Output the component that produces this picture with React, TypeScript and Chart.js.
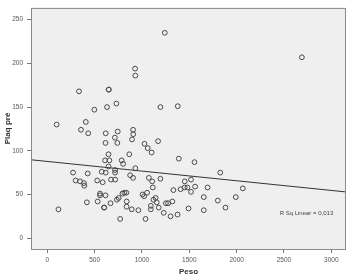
import React, { useEffect, useRef } from "react";
import { Chart, registerables } from "chart.js";

Chart.register(...registerables);

// Weight (Peso) values of each case
const peso = [
  1241, 2689, 927, 930, 335, 649, 649, 730, 497, 631,
  1195, 1378, 99, 407, 356, 432, 617, 744, 906, 908,
  895, 714, 1170, 615, 740, 1027, 1061, 1102, 647, 866,
  610, 656, 786, 801, 647, 930, 1389, 1555, 1827, 272,
  427, 575, 617, 716, 716, 875, 906, 300, 346, 387,
  391, 527, 585, 673, 717, 1073, 1195, 1108, 1114, 1452,
  1518, 1332, 1408, 1451, 1480, 1518, 1561, 1693, 2065, 557,
  557, 615, 418, 532, 601, 601, 668, 735, 754, 794,
  814, 835, 839, 837, 892, 962, 118, 770, 1006, 1023,
  1054, 1144, 1121, 1156, 1253, 1276, 1321, 1653, 1801, 1094,
  1094, 1177, 1230, 1302, 1376, 1492, 1653, 1882, 1991, 1038,
];

// Plaq pré values of each case
const plaq = [
  235, 207, 194, 186, 168, 170, 170, 154, 147, 150,
  150, 151, 130, 133, 124, 120, 120, 122, 124, 119,
  113, 115, 111, 109, 109, 108, 103, 98, 96, 96,
  89, 89, 89, 85, 82, 80, 91, 87, 75, 75,
  74, 76, 75, 78, 75, 72, 69, 66, 65, 63,
  60, 66, 64, 67, 67, 69, 68, 65, 58, 65,
  67, 55, 56, 58, 58, 53, 59, 58, 57, 51,
  49, 49, 41, 42, 35, 35, 40, 44, 46, 51,
  52, 52, 42, 36, 33, 32, 33, 22, 50, 48,
  52, 46, 44, 41, 40, 40, 42, 47, 43, 37,
  33, 35, 29, 25, 27, 34, 32, 35, 47, 22,
];

// Fit line (ends at the plot edges)
const fitX = [-172, 3155];
const fitY = [89.7, 52.9];

const xTicks = [0, 500, 1000, 1500, 2000, 2500, 3000];
const yTicks = [0, 50, 100, 150, 200, 250];

const xTitle = "Peso";
const yTitle = "Plaq pré";
const rSqLabel = "R Sq Linear = 0,013";
const rSqAt = { x: 3020, y: 28 };

const FONT = "'Liberation Sans', Arial, sans-serif";

export default function App() {
  const ref = useRef<HTMLCanvasElement>(null);

  useEffect(() => {
    if (!ref.current) return;

    const framePlugin = {
      id: "frame",
      beforeDraw(chart: any) {
        const { ctx, chartArea: a } = chart;
        ctx.save();
        ctx.fillStyle = "#ffffff";
        ctx.fillRect(0, 0, chart.width, chart.height);
        ctx.fillStyle = "#efefef";
        ctx.fillRect(a.left, a.top, a.right - a.left, a.bottom - a.top);
        ctx.restore();
      },
      afterDatasetsDraw(chart: any) {
        const { ctx, chartArea: a, scales } = chart;
        ctx.save();
        ctx.strokeStyle = "#8a8a8a";
        ctx.lineWidth = 1;
        ctx.strokeRect(a.left + 0.5, a.top + 0.5, a.right - a.left - 1, a.bottom - a.top);
        ctx.fillStyle = "#444";
        ctx.font = `6px ${FONT}`;
        ctx.textAlign = "right";
        ctx.textBaseline = "middle";
        ctx.fillText(
          rSqLabel,
          scales.x.getPixelForValue(rSqAt.x),
          scales.y.getPixelForValue(rSqAt.y)
        );
        ctx.restore();
      },
    };

    const chart = new Chart(ref.current, {
      type: "scatter",
      data: {
        datasets: [
          {
            type: "scatter",
            data: peso.map((p, i) => ({ x: p, y: plaq[i] })),
            pointRadius: 2.4,
            pointBorderWidth: 1,
            borderColor: "#4a4a4a",
            backgroundColor: "rgba(0,0,0,0)",
            pointHoverRadius: 2.4,
          },
          {
            type: "line",
            data: fitX.map((x, i) => ({ x, y: fitY[i] })),
            borderColor: "#333",
            borderWidth: 1,
            pointRadius: 0,
            fill: false,
          } as any,
        ],
      },
      plugins: [framePlugin],
      options: {
        animation: false,
        responsive: false,
        devicePixelRatio: 1,
        layout: { padding: { left: 0, top: 4, right: 5, bottom: 0 } },
        plugins: {
          legend: { display: false },
          tooltip: { enabled: false },
        },
        scales: {
          x: {
            type: "linear",
            min: fitX[0],
            max: fitX[1],
            afterBuildTicks: (s: any) => {
              s.ticks = xTicks.map((v) => ({ value: v }));
            },
            afterFit: (s: any) => {
              s.height = 31;
            },
            border: { display: false },
            grid: { drawOnChartArea: false, tickLength: 4, color: "#777" },
            ticks: {
              autoSkip: false,
              maxRotation: 0,
              padding: 3,
              color: "#555",
              font: { size: 6.5, family: FONT },
              callback: (v: any) => String(v),
            },
            title: {
              display: true,
              text: xTitle,
              color: "#333",
              font: { size: 8, weight: "bold", family: FONT },
              padding: { top: 0, bottom: 3 },
            },
          },
          y: {
            type: "linear",
            min: -12.4,
            max: 263.5,
            afterBuildTicks: (s: any) => {
              s.ticks = yTicks.map((v) => ({ value: v }));
            },
            afterFit: (s: any) => {
              s.width = 31;
            },
            border: { display: false },
            grid: { drawOnChartArea: false, tickLength: 4, color: "#777" },
            ticks: {
              autoSkip: false,
              padding: 4,
              color: "#555",
              font: { size: 6.5, family: FONT },
              callback: (v: any) => String(v),
            },
            title: {
              display: true,
              text: yTitle,
              color: "#333",
              font: { size: 8, weight: "bold", family: FONT },
              padding: { top: 3, bottom: 0 },
            },
          },
        },
      } as any,
    });

    return () => chart.destroy();
  }, []);

  return (
    <div style={{ position: "absolute", left: 0, top: 0, width: 351, height: 280, background: "#fff" }}>
      <canvas ref={ref} width={351} height={280} style={{ display: "block" }} />
    </div>
  );
}
